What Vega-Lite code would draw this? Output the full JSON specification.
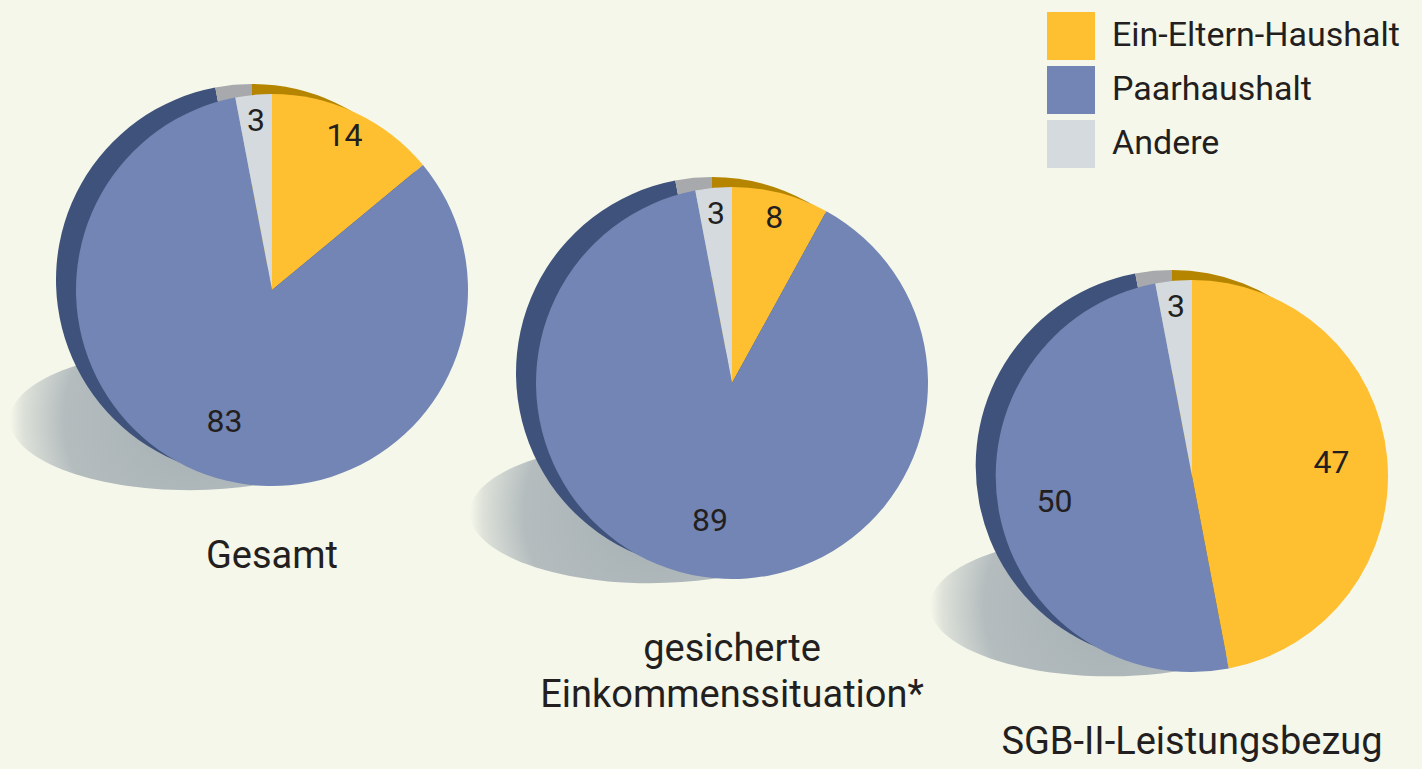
{
  "$schema": "https://vega.github.io/schema/vega-lite/v6.json",
  "width": 1422,
  "height": 769,
  "padding": 0,
  "autosize": {"type": "fit", "contains": "padding"},
  "background": "#f5f7ea",
  "config": {
    "view": {"stroke": null},
    "font": "Roboto",
    "legend": {
      "orient": "none",
      "legendX": 1047,
      "legendY": 12,
      "padding": 0,
      "symbolType": "square",
      "symbolSize": 2304,
      "symbolStrokeWidth": 0,
      "symbolOpacity": 1,
      "labelFontSize": 34,
      "labelFont": "Roboto",
      "labelColor": "#231f20",
      "labelOffset": 17,
      "labelLimit": 400,
      "rowPadding": 6
    }
  },
  "datasets": {
    "shares": [
      {"group": "Gesamt", "cat": "Ein-Eltern-Haushalt", "value": 14, "order": 1},
      {"group": "Gesamt", "cat": "Paarhaushalt", "value": 83, "order": 2},
      {"group": "Gesamt", "cat": "Andere", "value": 3, "order": 3},
      {"group": "gesichert", "cat": "Ein-Eltern-Haushalt", "value": 8, "order": 1},
      {"group": "gesichert", "cat": "Paarhaushalt", "value": 89, "order": 2},
      {"group": "gesichert", "cat": "Andere", "value": 3, "order": 3},
      {"group": "SGB", "cat": "Ein-Eltern-Haushalt", "value": 47, "order": 1},
      {"group": "SGB", "cat": "Paarhaushalt", "value": 50, "order": 2},
      {"group": "SGB", "cat": "Andere", "value": 3, "order": 3}
    ],
    "titles": [
      {"group": "Gesamt", "title": "Gesamt"},
      {"group": "gesichert", "title": "gesicherte\nEinkommenssituation*"},
      {"group": "SGB", "title": "SGB-II-Leistungsbezug"}
    ]
  },
  "encoding": {
    "x": {"field": "group", "type": "nominal", "axis": null,
          "scale": {"type": "point", "padding": 0, "domain": ["Gesamt", "gesichert", "SGB"], "range": [272, 1192]}},
    "y": {"field": "group", "type": "nominal", "axis": null,
          "scale": {"type": "point", "padding": 0, "domain": ["Gesamt", "gesichert", "SGB"], "range": [290, 476]}}
  },
  "layer": [
    {
      "data": {"name": "titles"},
      "mark": {
        "type": "point",
        "shape": "M -1 0 A 1 0.39 0 1 0 1 0 A 1 0.39 0 1 0 -1 0 Z",
        "size": 129600,
        "xOffset": -82,
        "yOffset": 130,
        "filled": true,
        "strokeWidth": 0,
        "opacity": 1,
        "fill": {
          "gradient": "radial",
          "x1": 0.5, "y1": 0.5, "r1": 0,
          "x2": 0.5, "y2": 0.5, "r2": 0.5,
          "stops": [
            {"offset": 0, "color": "#a6b0b4"},
            {"offset": 0.7, "color": "#b4bcbe"},
            {"offset": 0.93, "color": "#dde1d9"},
            {"offset": 1, "color": "#f5f7ea"}
          ]
        }
      }
    },
    {
      "data": {"name": "shares"},
      "transform": [
        {"stack": "value", "groupby": ["group"], "sort": [{"field": "order", "order": "ascending"}], "as": ["start", "end"]}
      ],
      "layer": [
        {
          "mark": {"type": "arc", "outerRadius": 196, "xOffset": -20, "yOffset": -10},
          "encoding": {
            "theta": {"field": "start", "type": "quantitative", "scale": {"domain": [0, 100]}},
            "theta2": {"field": "end"},
            "fill": {
              "condition": [
                {"test": "datum.cat === 'Ein-Eltern-Haushalt'", "value": "#b58500"},
                {"test": "datum.cat === 'Andere'", "value": "#a7a9ac"}
              ],
              "value": "#3f527b"
            }
          }
        },
        {
          "mark": {"type": "arc", "outerRadius": 196},
          "encoding": {
            "theta": {"field": "start", "type": "quantitative", "scale": {"domain": [0, 100]}},
            "theta2": {"field": "end"},
            "color": {
              "field": "cat", "type": "nominal",
              "scale": {"domain": ["Ein-Eltern-Haushalt", "Paarhaushalt", "Andere"],
                        "range": ["#fec031", "#7285b4", "#d4dadd"]},
              "legend": {"title": null}
            }
          }
        },
        {
          "transform": [
            {"fold": ["start", "end"], "as": ["edge", "angle"]},
            {"aggregate": [{"op": "mean", "field": "angle", "as": "mid"}], "groupby": ["group", "cat", "value"]}
          ],
          "layer": [
            {
              "transform": [{"filter": "datum.value < 20"}],
              "mark": {"type": "text", "radius": 170, "fontSize": 32, "color": "#231f20", "font": "Roboto"},
              "encoding": {
                "theta": {"field": "mid", "type": "quantitative", "stack": null, "scale": {"domain": [0, 100]}},
                "text": {"field": "value", "type": "quantitative"}
              }
            },
            {
              "transform": [{"filter": "datum.value >= 20"}],
              "mark": {"type": "text", "radius": 140, "fontSize": 32, "color": "#231f20", "font": "Roboto"},
              "encoding": {
                "theta": {"field": "mid", "type": "quantitative", "stack": null, "scale": {"domain": [0, 100]}},
                "text": {"field": "value", "type": "quantitative"}
              }
            }
          ]
        }
      ]
    },
    {
      "data": {"name": "titles"},
      "mark": {"type": "text", "dy": 248, "baseline": "top", "align": "center", "fontSize": 38,
               "lineBreak": "\n", "lineHeight": 46, "color": "#231f20", "font": "Roboto"},
      "encoding": {
        "text": {"field": "title", "type": "nominal"}
      }
    }
  ]
}
